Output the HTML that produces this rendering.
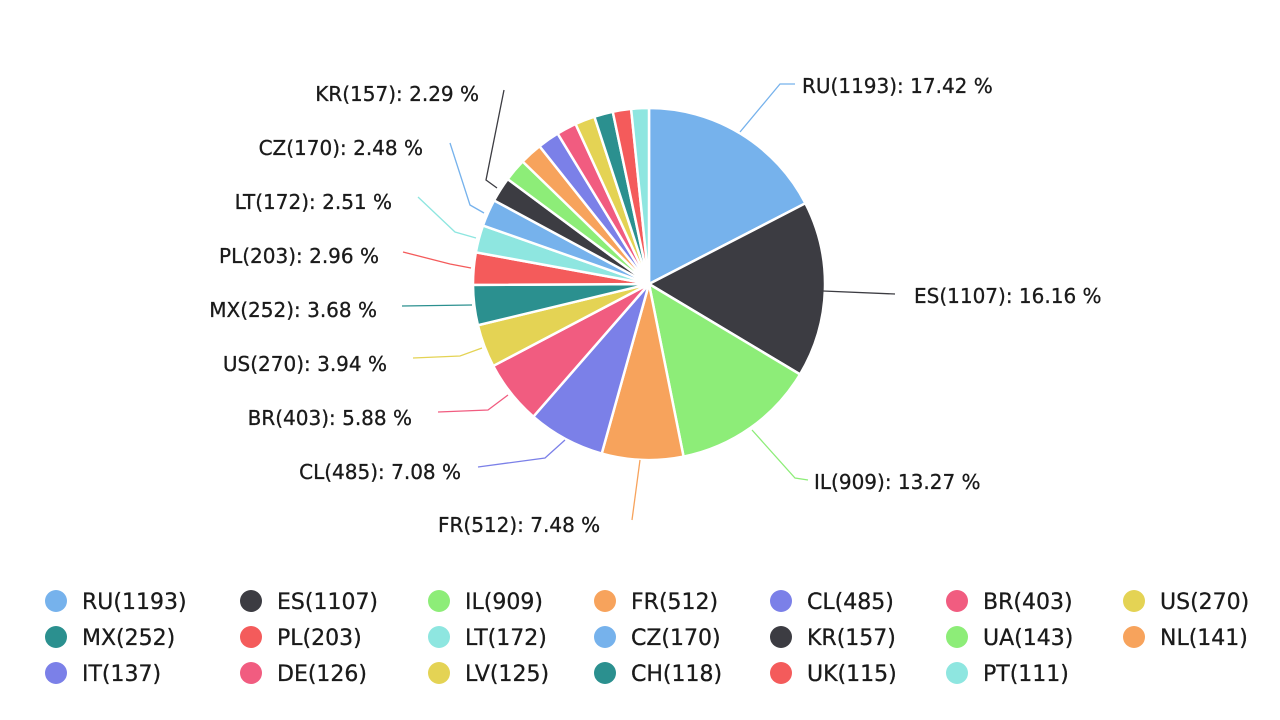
<!DOCTYPE html><html><head><meta charset="utf-8"><style>
body{margin:0;background:#fff;}
svg{display:block;font-family:"DejaVu Sans","Liberation Sans",sans-serif;}
</style></head><body>
<svg id="s" width="1280" height="720" viewBox="0 0 1280 720">
<rect x="0" y="0" width="1280" height="720" fill="#fff"/>
<g id="pie"></g>
<g id="lab" font-size="20" fill="#1a1a1a" stroke="#1a1a1a" stroke-width="0.3"></g>
<g id="leg" font-size="22" fill="#1a1a1a" stroke="#1a1a1a" stroke-width="0.3"></g>
</svg>
<script>
const d=[["RU",1193],["ES",1107],["IL",909],["FR",512],["CL",485],["BR",403],["US",270],["MX",252],["PL",203],["LT",172],["CZ",170],["KR",157],["UA",143],["NL",141],["IT",137],["DE",126],["LV",125],["CH",118],["UK",115],["PT",111]];
const c=["#76b2ec","#3c3c42","#8ded78","#f7a35c","#7b80e8","#f15c80","#e4d354","#2b908f","#f45b5b","#8ee6e0"];
const tot=d.reduce((a,b)=>a+b[1],0);
const cx=649,cy=284,r=176;let a=0,h="";
d.forEach((v,i)=>{const s=a,e=a+v[1]/tot*2*Math.PI;a=e;
const p=t=>[cx+r*Math.sin(t),cy-r*Math.cos(t)];
const [x1,y1]=p(s),[x2,y2]=p(e);
h+=`<path d="M${cx},${cy}L${x1},${y1}A${r},${r} 0 ${e-s>Math.PI?1:0} 1 ${x2},${y2}Z" fill="${c[i%10]}" stroke="#fff" stroke-width="2.5"/>`;});
document.getElementById("pie").innerHTML=h;
const L=[
["RU(1193): 17.42 %",802,93,"start","M740,132 L780,84 L795,84",c[0]],
["ES(1107): 16.16 %",914,303,"start","M823,291 L895,294",c[1]],
["IL(909): 13.27 %",814,489,"start","M752,430 L795,478 L808,480",c[2]],
["FR(512): 7.48 %",438,532,"start","M640,460 L632,520",c[3]],
["CL(485): 7.08 %",461,479,"end","M565,440 L545,458 L478,467",c[4]],
["BR(403): 5.88 %",412,425,"end","M508,395 L488,410 L438,412",c[5]],
["US(270): 3.94 %",387,371,"end","M482,348 L460,356 L413,358",c[6]],
["MX(252): 3.68 %",377,317,"end","M472,305 L402,306",c[7]],
["PL(203): 2.96 %",379,263,"end","M471,268 L450,264 L403,252",c[8]],
["LT(172): 2.51 %",392,209,"end","M476,238 L455,232 L418,197",c[9]],
["CZ(170): 2.48 %",423,155,"end","M484,213 L470,205 L450,143",c[0]],
["KR(157): 2.29 %",479,101,"end","M497,188 L486,180 L504,90",c[1]]];
let g="";L.forEach(l=>{g+=`<path d="${l[4]}" fill="none" stroke="${l[5]}" stroke-width="1.3"/><text x="${l[1]}" y="${l[2]}" text-anchor="${l[3]}">${l[0]}</text>`;});
document.getElementById("lab").innerHTML=g;
const cols=[56,251,439,605,781,957,1134],rows=[601,637,673];let lg="";
d.forEach((v,i)=>{const x=cols[i%7],y=rows[Math.floor(i/7)];
lg+=`<circle cx="${x}" cy="${y}" r="11" fill="${c[i%10]}" stroke="none"/><text x="${x+26}" y="${y+8}">${v[0]}(${v[1]})</text>`;});
document.getElementById("leg").innerHTML=lg;
</script>
</body></html>
